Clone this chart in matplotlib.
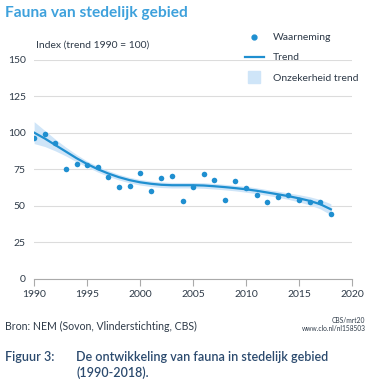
import matplotlib
matplotlib.use("Agg")
import matplotlib.pyplot as plt
from matplotlib.lines import Line2D

# observed index values (Waarneming)
years = list(range(1990, 2019))
observed = [96.5, 99.0, 93.1, 75.3, 78.8, 78.1, 76.3, 69.5, 62.6, 63.7,
            72.4, 60.1, 68.8, 70.1, 53.3, 62.6, 71.7, 67.8, 54.0, 66.9,
            62.4, 57.2, 52.6, 55.8, 57.6, 53.8, 52.8, 52.8, 44.2]

# smoothed trend and its uncertainty band
trend = [100, 96, 91.5, 87, 82.5, 78.5, 75, 72, 69.5, 67.5,
         66, 65, 64.3, 64, 64, 64, 63.8, 63.3, 62.7, 62,
         61.2, 60.2, 59, 57.8, 56.5, 55, 53.3, 51, 47.5]
trend_lo = [92.5, 90.5, 87.5, 84, 80, 76.5, 73, 70, 67.6, 65.6,
            64.1, 63.1, 62.4, 62.1, 62.1, 62.1, 61.9, 61.4, 60.8, 60.1,
            59.2, 58.2, 57, 55.7, 54.3, 52.5, 50.5, 47.8, 43.7]
trend_hi = [107.5, 101.5, 95.5, 90, 85, 80.5, 77, 74, 71.4, 69.4,
            67.9, 66.9, 66.2, 65.9, 65.9, 65.9, 65.7, 65.2, 64.6, 63.9,
            63.2, 62.2, 61, 59.9, 58.7, 57.5, 56.1, 54.2, 51.3]

xticks = [1990, 1995, 2000, 2005, 2010, 2015, 2020]
yticks = [0, 25, 50, 75, 100, 125, 150]

blue = "#1f8fd0"
band = "#cfe5f8"
title_col = "#3ea1dc"
text_col = "#2e3a48"
cap_col = "#2b4a6e"

plt.rcParams["font.family"] = ["Lato", "DejaVu Sans"]

fig = plt.figure(figsize=(3.71, 3.92), dpi=100)
ax = fig.add_axes([0.092, 0.289, 0.857, 0.559])

ax.fill_between(years, trend_lo, trend_hi, color=band, lw=0, zorder=2)
ax.plot(years, trend, color=blue, lw=1.6, zorder=3)
ax.scatter(years, observed, s=16, color=blue, zorder=4, linewidths=0)

ax.set_xlim(1990, 2020)
ax.set_ylim(0, 150)
ax.set_xticks(xticks)
ax.set_yticks(yticks)
ax.tick_params(axis="x", length=5, color="#aaaaaa", labelsize=7.5,
               labelcolor=text_col, pad=3)
ax.tick_params(axis="y", length=0, labelsize=7.5, labelcolor=text_col, pad=6)
ax.grid(axis="y", color="#dcdcdc", lw=0.8, zorder=0)
for s in ["top", "right", "left"]:
    ax.spines[s].set_visible(False)
ax.spines["bottom"].set_color("#aaaaaa")
ax.spines["bottom"].set_linewidth(0.8)

# legend
handles = [Line2D([], [], ls="", marker="o", ms=3.5, color=blue),
           Line2D([], [], color=blue, lw=1.6),
           Line2D([], [], ls="", marker="s", ms=9, color=band)]
labels = ["Waarneming", "Trend", "Onzekerheid trend"]
fig.legend(handles, labels, loc="upper left", bbox_to_anchor=(0.635, 0.94),
           frameon=False, fontsize=7.5, handlelength=1.8, labelspacing=1.05,
           handletextpad=0.9, labelcolor=text_col)

fig.text(0.013, 0.968, "Fauna van stedelijk gebied", fontsize=11.2,
         fontweight="bold", color=title_col, va="center")
fig.text(0.097, 0.884, "Index (trend 1990 = 100)", fontsize=7.5,
         color=text_col, va="center")

fig.text(0.013, 0.168, "Bron: NEM (Sovon, Vlinderstichting, CBS)", fontsize=7.6,
         color=text_col, va="center")
fig.text(0.985, 0.183, "CBS/mrt20", fontsize=4.8, color=text_col,
         ha="right", va="center")
fig.text(0.985, 0.162, "www.clo.nl/nl158503", fontsize=4.8, color=text_col,
         ha="right", va="center")

fig.text(0.013, 0.089, "Figuur 3:", fontsize=9, color=cap_col, va="center",
         fontweight="semibold")
fig.text(0.205, 0.089, "De ontwikkeling van fauna in stedelijk gebied",
         fontsize=9, color=cap_col, va="center", fontweight="semibold")
fig.text(0.205, 0.048, "(1990-2018).", fontsize=9, color=cap_col,
         va="center", fontweight="semibold")

fig.savefig("out.png", dpi=100)
